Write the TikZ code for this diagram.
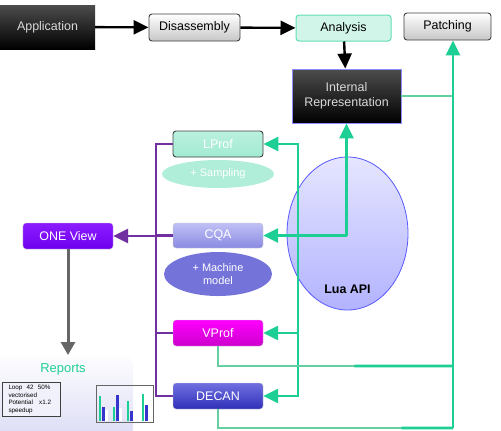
\documentclass[tikz,border=0pt]{standalone}
\usepackage{fontspec}
\setmainfont{Liberation Sans}
\usetikzlibrary{arrows.meta, positioning, shapes.geometric, calc}
\definecolor{mint}{HTML}{1ECF95}
\definecolor{palemint}{HTML}{66CFA0}
\definecolor{plum}{HTML}{7030A0}
\definecolor{barblue}{HTML}{3535CC}
\definecolor{lavender}{HTML}{DCDCF6}
\definecolor{onetop}{HTML}{8C1CFF}
\definecolor{onebot}{HTML}{6E00EE}
\definecolor{decantop}{HTML}{7070E0}
\definecolor{decanbot}{HTML}{3030B8}
\definecolor{cqatop}{HTML}{C0C0F6}
\definecolor{cqabot}{HTML}{8A8AE2}
\definecolor{machine}{HTML}{7373DA}

\begin{document}
\begin{tikzpicture}[x=1bp, y=-1bp,
    box/.style={rectangle, rounded corners=3bp, minimum width=90bp, minimum height=26bp,
                inner sep=0pt, align=center, font=\fontsize{12.5}{14.5}\selectfont},
    greybox/.style={box, draw=black!75, line width=0.9bp, top color=white, bottom color=black!22},
    darkbox/.style={box, rounded corners=0pt, text=white!85!black, top color=black!70, bottom color=black},
    tool/.style={box, text=white, draw=white!80!black, line width=0.4bp},
    blob/.style={ellipse, inner sep=0pt, align=center, text=white, font=\fontsize{11}{13}\selectfont},
    arr/.style={-{Triangle[length=15bp, width=14bp]}, line width=2.4bp, black},
    garr/.style={-{Triangle[length=15bp, width=14bp]}, line width=2.6bp, mint},
    gline/.style={line width=2.6bp, mint},
    pline/.style={line width=2.6bp, palemint},
    purp/.style={line width=2.8bp, plum},
  ]
  \useasboundingbox (0,0) rectangle (501,430);

  % reports panel
  \shade[top color=white!95!lavender, bottom color=lavender, rounded corners=9bp]
    (-12,356) rectangle (133,438);

  \node[darkbox, minimum width=95bp, minimum height=44bp] (app) at (47.5,27) {Application};
  \node[greybox, minimum width=91bp, minimum height=27bp] (disasm) at (194.5,27.5) {Disassembly};
  \node[box, minimum width=95bp, draw=mint!70, line width=1bp, fill=mint!20] (analysis) at (343.5,28) {Analysis};
  \node[greybox, minimum width=87bp, minimum height=27bp] (patching) at (447.5,26.5) {Patching};
  \node[darkbox, minimum width=109bp, minimum height=54bp, draw=blue!45!white, line width=0.9bp] (intrep) at (346.5,96) {Internal\\[1pt]Representation};

  \node[ellipse, minimum width=121bp, minimum height=153bp, draw=blue!65!white, line width=0.8bp,
        top color=blue!10, bottom color=blue!30] (lua) at (347.5,233.5) {};
  \node[font=\fontsize{12.5}{14}\selectfont\bfseries] (lualabel) at (347.5,289) {Lua API};

  \node[box, text=white, draw=black!75, line width=0.9bp, top color=mint!30, bottom color=mint!42] (lprof) at (218,144) {LProf};
  \node[blob, minimum width=112bp, minimum height=28bp, fill=mint!35] (sampling) at (218,174) {+ Sampling};
  \node[tool, minimum height=25bp, top color=cqatop, bottom color=cqabot] (cqa) at (218,235.5) {CQA};
  \node[blob, minimum width=108bp, minimum height=44bp, fill=machine] (machine) at (218,274) {+ Machine\\model};
  \node[tool, top color=magenta, bottom color=magenta!80!black] (vprof) at (218,333) {VProf};
  \node[tool, top color=decantop, bottom color=decanbot] (decan) at (218,396) {DECAN};
  \node[tool, top color=onetop, bottom color=onebot] (oneview) at (68,236) {ONE View};

  \node[text=mint, font=\fontsize{13}{15}\selectfont] (reports) at (63,369) {Reports};
  \node[draw=black!75, line width=0.9bp, fill=white!60!lavender, text width=46bp, inner xsep=6bp, inner ysep=3bp,
        align=left, font=\fontsize{6.3}{7.6}\selectfont] (summary) at (31.5,399.5)
        {Loop\ \ 42\ \ 50\%\\vectorised\\Potential\ \ \ x1.2\\speedup};
  \node[draw=black!60, line width=1bp, minimum width=57bp, minimum height=37bp, inner sep=0pt] (chart) at (125,403.5) {};
  \foreach \gx/\gt/\bt/\wt in {100/396/407/410, 114/407/395/408, 128/401/411/408, 143/394/405/409} {
    \fill[mint] (\gx-1.3,\gt) rectangle (\gx+1.3,421);
    \fill[barblue] (\gx+2,\bt) rectangle (\gx+4.6,421);
    \fill[white] (\gx+5.3,\wt) rectangle (\gx+7.9,421);
  }

  \draw[arr] (app) -- (disasm);
  \draw[arr] (disasm) -- (analysis);
  \draw[arr] (analysis) -- (intrep);

  \coordinate (hub) at (intrep.south |- cqa.east);
  \coordinate (bus) at (298,236);
  \coordinate (vlow) at (453,366);
  \coordinate (railbot) at (453,428);
  \draw[garr] (hub) -- (intrep.south);
  \draw[garr] (hub) -- (cqa.east);
  \draw[garr] (bus) |- (lprof.east);
  \draw[garr] (bus) |- (vprof.east);
  \draw[garr] (bus) |- (decan.east);
  \draw[pline] (intrep.east) -- (intrep.east -| railbot);
  \draw[pline] (vprof.south) |- (vlow);
  \draw[pline] (decan.south) |- (railbot);
  \draw[gline] ($(vprof.south |- vlow)!0.58!(vlow)$) -- (vlow);
  \draw[gline] ($(decan.south |- railbot)!0.78!(railbot)$) -- (railbot);
  \draw[garr] (railbot) -- (railbot |- patching.south);

  \coordinate (ptop) at (156,144);
  \coordinate (pbot) at (156,396);
  \draw[purp] (lprof.west) -- (ptop) -- (pbot) -- (decan.west);
  \draw[purp] (cqa.west) -- (cqa.west -| ptop);
  \draw[purp] (vprof.west) -- (vprof.west -| ptop);
  \draw[purp, -{Triangle[length=15bp, width=14bp]}] (ptop |- oneview.east) -- (oneview.east);

  \coordinate (reptop) at (oneview.south |- 0,355);
  \draw[line width=3bp, black!60, -{Triangle[length=13bp, width=14bp]}] (oneview.south) -- (reptop);
\end{tikzpicture}
\end{document}
